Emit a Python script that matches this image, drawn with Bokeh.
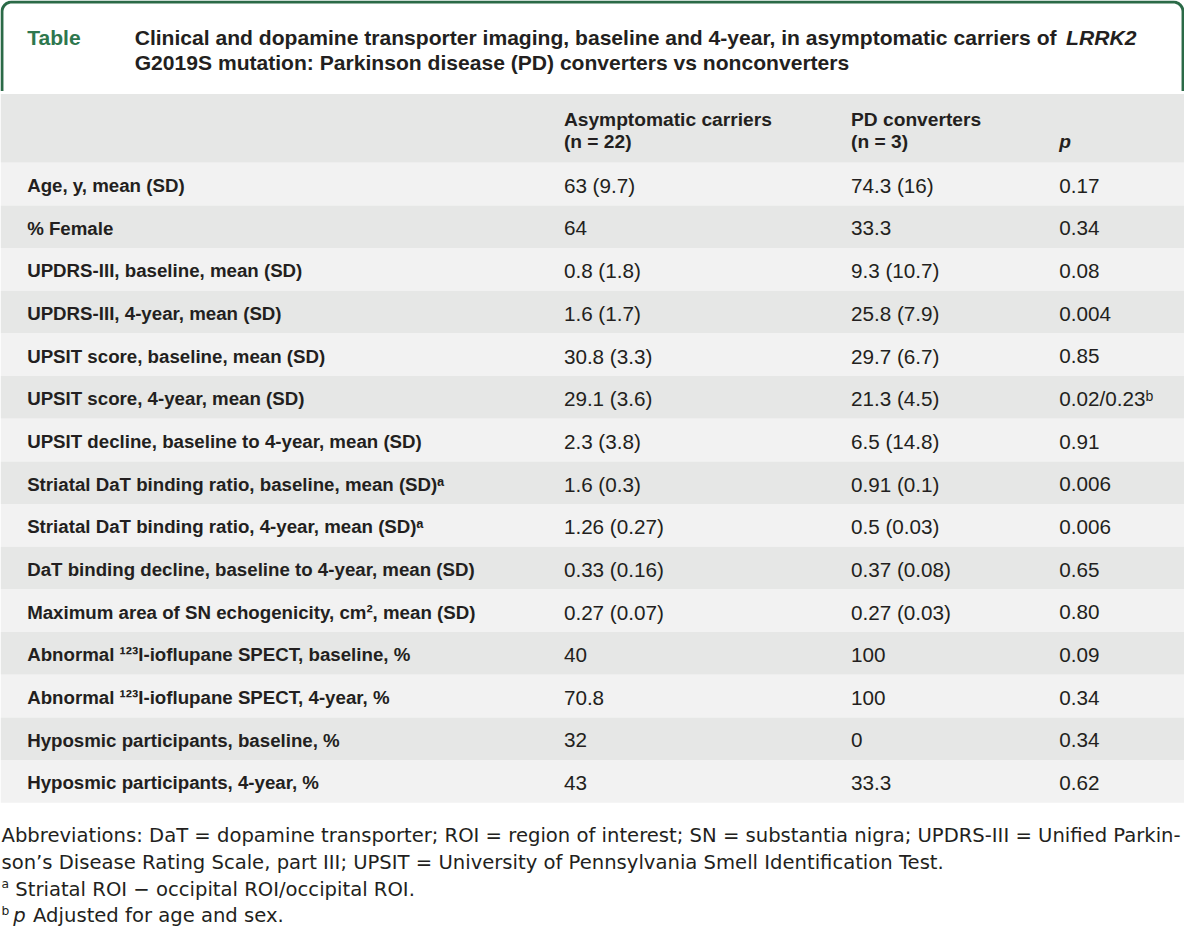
import numpy as np
from bokeh.plotting import figure
from bokeh.models import Range1d, ColumnDataSource
from bokeh.core.properties import value
from bokeh.embed import file_html
from bokeh.resources import INLINE

# ---------------- data ----------------
title_tag = "Table"
title_line1 = "Clinical and dopamine transporter imaging, baseline and 4-year, in asymptomatic carriers of"
title_line1_italic = "LRRK2"
title_line2 = "G2019S mutation: Parkinson disease (PD) converters vs nonconverters"

head_carriers = ["Asymptomatic carriers", "(n = 22)"]
head_converters = ["PD converters", "(n = 3)"]
head_p = "p"

labels = [
    "Age, y, mean (SD)",
    "% Female",
    "UPDRS-III, baseline, mean (SD)",
    "UPDRS-III, 4-year, mean (SD)",
    "UPSIT score, baseline, mean (SD)",
    "UPSIT score, 4-year, mean (SD)",
    "UPSIT decline, baseline to 4-year, mean (SD)",
    "Striatal DaT binding ratio, baseline, mean (SD)\u1d43",
    "Striatal DaT binding ratio, 4-year, mean (SD)\u1d43",
    "DaT binding decline, baseline to 4-year, mean (SD)",
    "Maximum area of SN echogenicity, cm\u00b2, mean (SD)",
    "Abnormal \u00b9\u00b2\u00b3I-ioflupane SPECT, baseline, %",
    "Abnormal \u00b9\u00b2\u00b3I-ioflupane SPECT, 4-year, %",
    "Hyposmic participants, baseline, %",
    "Hyposmic participants, 4-year, %",
]
carriers = ["63 (9.7)", "64", "0.8 (1.8)", "1.6 (1.7)", "30.8 (3.3)", "29.1 (3.6)",
            "2.3 (3.8)", "1.6 (0.3)", "1.26 (0.27)", "0.33 (0.16)", "0.27 (0.07)",
            "40", "70.8", "32", "43"]
converters = ["74.3 (16)", "33.3", "9.3 (10.7)", "25.8 (7.9)", "29.7 (6.7)", "21.3 (4.5)",
              "6.5 (14.8)", "0.91 (0.1)", "0.5 (0.03)", "0.37 (0.08)", "0.27 (0.03)",
              "100", "100", "0", "33.3"]
pvalues = ["0.17", "0.34", "0.08", "0.004", "0.85", "0.02/0.23\u1d47", "0.91", "0.006",
           "0.006", "0.65", "0.80", "0.09", "0.34", "0.34", "0.62"]

foot_abbrev = [
    "Abbreviations: DaT = dopamine transporter; ROI = region of interest; SN = substantia nigra; UPDRS-III = Unified Parkin-",
    "son\u2019s Disease Rating Scale, part III; UPSIT = University of Pennsylvania Smell Identification Test.",
]
foot_a_mark = "a"
foot_a_text = "Striatal ROI \u2212 occipital ROI/occipital ROI."
foot_b_mark = "b"
foot_b_italic = "p"
foot_b_text = "Adjusted for age and sex."

# ---------------- style / layout ----------------
W, H = 1200, 948
PW, PH = 1184, 932
SC = (PW / W + PH / H) / 2
GREEN = "#2b6a47"
GREEN_TXT = "#2e774e"
TEXT = "#231f20"
BAND = "#e6e7e6"
ROW_LIGHT = "#f2f2f2"
ROW_DARK = "#e6e7e6"
FONT = "Liberation Sans"
FOOT_FONT = "DejaVu Sans"
DY = -6  # baseline correction

HEAD_TOP, HEAD_BOT = 95, 165
ROW_H = (816 - HEAD_BOT) / len(labels)
X_LABEL, X_C1, X_C2, X_C3 = 27, 571, 862, 1073

p = figure(width=PW, height=PH, x_range=Range1d(0, W), y_range=Range1d(H, 0),
           output_backend="svg", toolbar_location=None, min_border=0,
           x_axis_type=None, y_axis_type=None)
p.grid.visible = False
p.outline_line_color = None
p.background_fill_color = "white"
p.border_fill_color = "white"


def fs(px):
    return f"{px * SC:.2f}px"


def txt(x, y, s, size, style="normal", font=FONT, color=TEXT):
    p.text(x=[x], y=[y + DY], text=[s], text_font=value(font), text_font_size=fs(size),
           text_font_style=style, text_color=color, text_baseline="alphabetic",
           text_align="left")


# green frame around the title (open at the bottom)
r = 10
x0, x1, y0, yb = 1.5, W - 1.5, 1.5, 92
t1 = np.linspace(np.pi, 1.5 * np.pi, 20)
t2 = np.linspace(1.5 * np.pi, 2 * np.pi, 20)
fx = np.concatenate([[x0], x0 + r + r * np.cos(t1), x1 - r + r * np.cos(t2), [x1]])
fy = np.concatenate([[yb], y0 + r + r * np.sin(t1), y0 + r + r * np.sin(t2), [yb]])
p.line(fx, fy, line_color=GREEN, line_width=3 * SC)

# title
TS = 21.4
txt(X_LABEL, 44, title_tag, TS, "bold", color=GREEN_TXT)
txt(136, 44, title_line1, TS, "bold")
txt(1080, 44, title_line1_italic, TS, "bold italic")
txt(136, 69, title_line2, TS, "bold")

# header band
p.quad(left=[0], right=[W], top=[HEAD_TOP], bottom=[HEAD_BOT], fill_color=BAND, line_color=None)
txt(X_C1, 127, head_carriers[0], 19.5, "bold")
txt(X_C1, 149, head_carriers[1], 19.5, "bold")
txt(X_C2, 127, head_converters[0], 19.5, "bold")
txt(X_C2, 149, head_converters[1], 19.5, "bold")
txt(X_C3, 149, head_p, 19.5, "bold italic")

# body rows
idx = np.arange(len(labels))
tops = HEAD_BOT + idx * ROW_H
src = ColumnDataSource(dict(
    top=tops, bottom=tops + ROW_H, base=tops + 29.3 + DY,
    color=[ROW_LIGHT if i % 2 == 0 else ROW_DARK for i in idx],
    label=labels, c1=carriers, c2=converters, c3=pvalues,
))
p.quad(left=0, right=W, top="top", bottom="bottom", fill_color="color", line_color=None, source=src)
p.text(x=X_LABEL, y="base", text="label", source=src, text_font=value(FONT),
       text_font_size=fs(19), text_font_style="bold", text_color=TEXT, text_baseline="alphabetic")
for xcol, col in ((X_C1, "c1"), (X_C2, "c2"), (X_C3, "c3")):
    p.text(x=xcol, y="base", text=col, source=src, text_font=value(FONT),
           text_font_size=fs(21), text_color=TEXT, text_baseline="alphabetic")

# footnotes
FS = 19.9
txt(1, 855, foot_abbrev[0], FS, font=FOOT_FONT)
txt(1, 883, foot_abbrev[1], FS, font=FOOT_FONT)
txt(1, 905, foot_a_mark, 12.5, font=FOOT_FONT)
txt(15, 910, foot_a_text, FS, font=FOOT_FONT)
txt(1, 932, foot_b_mark, 12.5, font=FOOT_FONT)
txt(13, 937, foot_b_italic, FS, "italic", font=FOOT_FONT)
txt(33, 937, foot_b_text, FS, font=FOOT_FONT)

open("out.html", "w").write(file_html(p, INLINE))
